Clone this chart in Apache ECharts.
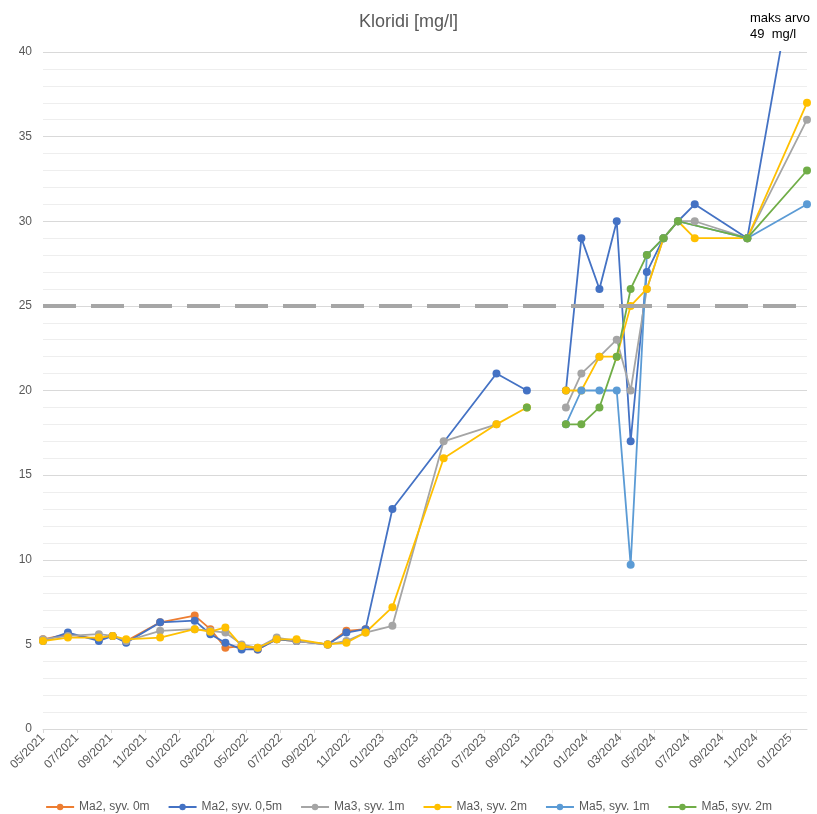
<!DOCTYPE html>
<html>
<head>
<meta charset="utf-8">
<title>Kloridi</title>
<script src="https://cdn.jsdelivr.net/npm/echarts@6/dist/echarts.min.js"></script>
<style>
  html, body { margin: 0; padding: 0; background: #fff; }
  #chart { width: 817px; height: 814px; }
</style>
</head>
<body>
<div id="chart"></div>
<script>
// sampling dates
const dates = [
  '2021-05-01', '2021-06-15', '2021-08-10', '2021-09-04', '2021-09-28',
  '2021-11-28', '2022-01-30', '2022-02-25', '2022-03-24', '2022-04-22',
  '2022-05-21', '2022-06-24', '2022-07-30', '2022-09-24', '2022-10-28',
  '2022-12-01', '2023-01-19', '2023-04-19', '2023-07-23', '2023-09-16',
  '2023-11-25', '2023-12-23', '2024-01-25', '2024-02-24', '2024-03-20',
  '2024-04-18', '2024-05-18', '2024-06-13', '2024-07-13', '2024-10-16',
  '2025-02-01'
]
// lines break here (no samples in autumn 2023)
const breakDate = '2023-10-20'

const ma2_0m = [5.3, 5.6, 5.3, 5.5, 5.2, 6.3, 6.7, 5.9, 4.8, 4.9, 4.7, 5.3, 5.2, 5.0, 5.8, 5.9,
  null, null, null, null, null, null, null, null, null, null, null, null, null, null, null]
const ma2_05m = [5.2, 5.7, 5.2, 5.5, 5.1, 6.3, 6.4, 5.6, 5.1, 4.7, 4.7, 5.3, 5.2, 5.0, 5.7, 5.9,
  13, null, 21, 20, 20, 29, 26, 30, 17, 27, 29, 30, 31, 29, 49]
const ma3_1m = [5.3, 5.5, 5.6, 5.5, 5.2, 5.8, 5.9, 5.8, 5.7, 5.0, 4.8, 5.4, 5.2, 5.0, 5.2, 5.7,
  6.1, 17, 18, null, 19, 21, 22, 23, 20, 26, 29, 30, 30, 29, 36]
const ma3_2m = [5.2, 5.4, 5.4, 5.5, 5.3, 5.4, 5.9, 5.75, 6.0, 4.9, 4.8, 5.3, 5.3, 5.0, 5.1, 5.7,
  7.2, 16, 18, 19, 20, 20, 22, 22, 25, 26, 29, 30, 29, 29, 37]
const ma5_1m = [null, null, null, null, null, null, null, null, null, null, null, null, null, null, null, null,
  null, null, null, null, 18, 20, 20, 20, 9.7, 28, 29, 30, null, 29, 31]
const ma5_2m = [null, null, null, null, null, null, null, null, null, null, null, null, null, null, null, null,
  null, null, null, 19, 18, 18, 19, 22, 26, 28, 29, 30, null, 29, 33]

const seriesNames = ['Ma2, syv. 0m', 'Ma2, syv. 0,5m', 'Ma3, syv. 1m', 'Ma3, syv. 2m', 'Ma5, syv. 1m', 'Ma5, syv. 2m']
const seriesValues = [ma2_0m, ma2_05m, ma3_1m, ma3_2m, ma5_1m, ma5_2m]
const colors = ['#ED7D31', '#4472C4', '#A5A5A5', '#FFC000', '#5B9BD5', '#70AD47']
const limitValue = 25

/** months since 05/2021, fractional */
function monthIndex (s) {
  const [y, m, d] = s.split('-').map(Number)
  const dim = new Date(y, m, 0).getDate()
  return (y - 2021) * 12 + (m - 5) + (d - 1) / dim
}

function monthLabel (v) {
  const total = Math.round(v) + 4 // 0 -> May 2021
  const year = 2021 + Math.floor(total / 12)
  const month = (total % 12) + 1
  return (month < 10 ? '0' : '') + month + '/' + year
}

function buildData (values) {
  const out = []
  let broke = false
  values.forEach((v, i) => {
    if (!broke && dates[i] > breakDate) {
      out.push([monthIndex(breakDate), '-'])
      broke = true
    }
    if (v !== null) out.push([monthIndex(dates[i]), v])
  })
  return out
}

const font = 'Liberation Sans, Arial, sans-serif'
const chart = echarts.init(document.getElementById('chart'))

const series = seriesNames.map((name, i) => ({
  name: name,
  type: 'line',
  data: buildData(seriesValues[i]),
  symbol: 'circle',
  symbolSize: 8,
  clip: true,
  lineStyle: { width: 1.8, color: colors[i] },
  itemStyle: { color: colors[i] },
  emphasis: { disabled: true }
}))

series[0].markLine = {
  silent: true,
  symbol: 'none',
  label: { show: false },
  lineStyle: { type: [33, 15], width: 4, color: '#A6A6A6' },
  data: [{ yAxis: limitValue }]
}

chart.setOption({
  animation: false,
  color: colors,
  textStyle: { fontFamily: font },
  title: {
    text: 'Kloridi [mg/l]',
    left: 'center',
    top: 8,
    textStyle: { fontSize: 18, fontWeight: 'normal', color: '#595959', fontFamily: font }
  },
  graphic: [{
    type: 'text',
    left: 750,
    top: 10,
    style: {
      text: 'maks arvo\n49  mg/l',
      font: '13px ' + font,
      fill: '#000',
      lineHeight: 16
    }
  }],
  legend: {
    data: seriesNames,
    top: 796,
    left: 'center',
    itemWidth: 28,
    itemHeight: 8,
    itemGap: 18,
    textStyle: { fontSize: 12, color: '#595959', fontFamily: font }
  },
  grid: { left: 43, right: 10, top: 52, bottom: 85, containLabel: false },
  xAxis: {
    type: 'value',
    min: 0,
    max: 45,
    interval: 2,
    axisLine: { lineStyle: { color: '#d9d9d9' } },
    axisTick: { show: true, length: 4, lineStyle: { color: '#d9d9d9' } },
    axisLabel: {
      rotate: 45,
      fontSize: 12,
      color: '#595959',
      margin: 7,
      showMaxLabel: false,
      formatter: monthLabel
    },
    splitLine: { show: false }
  },
  yAxis: {
    type: 'value',
    min: 0,
    max: 40,
    interval: 5,
    axisLine: { show: false },
    axisTick: { show: false },
    axisLabel: { fontSize: 12, color: '#595959', margin: 11 },
    splitLine: { lineStyle: { color: '#d9d9d9' } },
    minorTick: { show: false, splitNumber: 5 },
    minorSplitLine: { show: true, lineStyle: { color: '#eeeeee' } }
  },
  series: series
})
</script>
</body>
</html>
